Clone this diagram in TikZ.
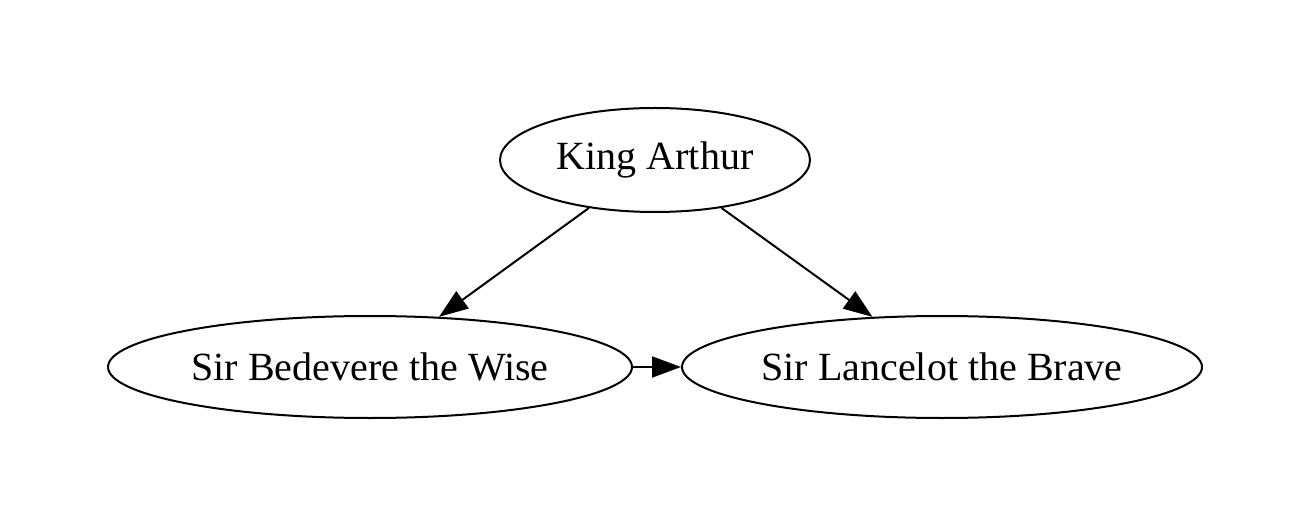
\documentclass[tikz,border=0pt]{standalone}
\usepackage{fontspec}
\setmainfont{Liberation Serif}
\usetikzlibrary{shapes.geometric,arrows.meta}
\begin{document}
\begin{tikzpicture}[x=1pt,y=-1pt,
  knight/.style={draw,ellipse,line width=2pt,inner sep=0pt,font=\fontsize{40}{46}\selectfont},
  edge/.style={line width=2pt,-{Triangle[length=29pt,width=21pt]}}]
\useasboundingbox (0,0) rectangle (1313,526);
\node[knight,minimum width=310pt,minimum height=104pt] (arthur) at (655,160) {King Arthur};
\node[knight,minimum width=524pt,minimum height=102pt] (bed) at (370,367) {Sir Bedevere the Wise};
\node[knight,minimum width=520pt,minimum height=102pt] (lan) at (942,367) {Sir Lancelot the Brave};
\draw[edge] (arthur) -- (bed);
\draw[edge] (arthur) -- (lan);
\draw[edge] (bed) -- (lan);
\end{tikzpicture}
\end{document}
